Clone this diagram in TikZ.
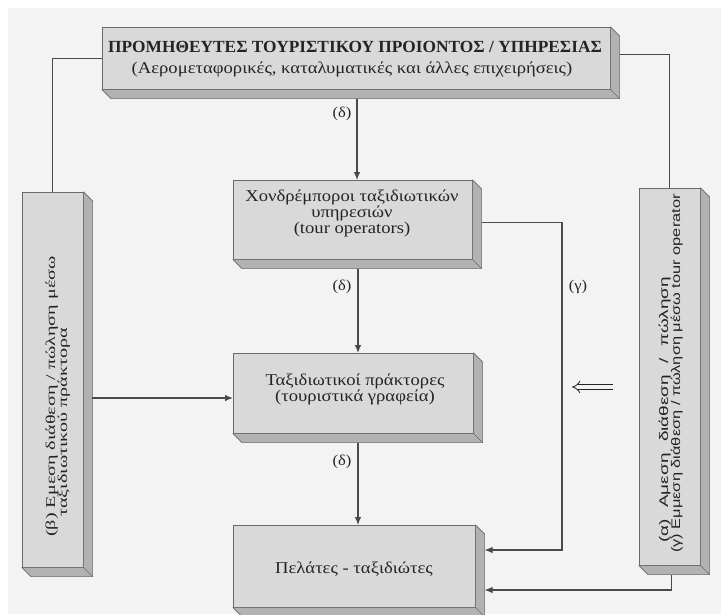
\documentclass[tikz,border=0pt]{standalone}
\usepackage{fontspec}
\setmainfont{Liberation Serif}
\newfontfamily\sansgr{Liberation Sans}
\usetikzlibrary{arrows.meta,calc}

\definecolor{paper}{HTML}{F3F3F3}
\definecolor{facegray}{HTML}{D9D9D9}
\definecolor{sidegray}{HTML}{B2B2B2}
\definecolor{edgegray}{HTML}{6A6A6A}
\definecolor{linegray}{HTML}{4A4A4A}
\definecolor{ink}{HTML}{242424}

\tikzset{
  slab/.style={draw=edgegray, line width=0.6pt, fill=facegray, inner sep=0pt, anchor=north west},
  link/.style={draw=linegray, line width=1.1pt},
  flow/.style={link, -{Latex[length=8pt,width=6.5pt]}},
  txt/.style={inner sep=0pt, text=ink, anchor=base},
  body/.style={txt, font=\fontsize{16.5}{18}\selectfont, xscale=1.13},
  tag/.style={txt, font=\fontsize{15}{18}\selectfont, xscale=1.1},
  vtxt/.style={inner sep=0pt, text=ink, anchor=base west, rotate=90},
  serifside/.style={vtxt, font=\fontsize{13.5}{14}\selectfont, xscale=1.49},
  sansside/.style={vtxt, font=\sansgr\fontsize{12.5}{14}\selectfont, xscale=1.31},
}

% right and bottom faces of a raised slab
\newcommand\extrude[2][9]{%
  \filldraw[draw=edgegray, line width=0.6pt, fill=sidegray]
    (#2.north east) -- ++(#1,#1) -- ($(#2.south east)+(#1,#1)$)
    -- ($(#2.south west)+(#1,#1)$) -- (#2.south west) -- (#2.south east) -- cycle;
  \draw[edgegray, line width=0.6pt] (#2.south east) -- ++(#1,#1);}
\newcommand\wsp{\hspace{0.6em}}

\begin{document}
\begin{tikzpicture}[x=1pt, y=-1pt]
  \useasboundingbox (0,0) rectangle (721,614);
  \fill[white] (0,0) rectangle (721,614);
  \fill[paper] (8,8) rectangle (721,614);

  % slabs
  \node[slab, minimum width=508pt, minimum height=62pt] (sup) at (102,27) {};
  \extrude{sup}
  \node[slab, minimum width=239pt, minimum height=79pt] (tour) at (233,180) {};
  \extrude{tour}
  \node[slab, minimum width=240pt, minimum height=80pt] (agents) at (233,353) {};
  \extrude{agents}
  \node[slab, minimum width=242pt, minimum height=82pt] (cust) at (233,525) {};
  \extrude{cust}
  \node[slab, minimum width=61pt, minimum height=375pt] (lbox) at (22,192) {};
  \extrude{lbox}
  \node[slab, minimum width=61pt, minimum height=377pt] (rbox) at (639,188) {};
  \extrude{rbox}

  % texts in the slabs
  \node[txt, font=\fontsize{17}{18}\selectfont\bfseries, xscale=1.02] (supA) at (355,52)
    {ΠΡΟΜΗΘΕΥΤΕΣ ΤΟΥΡΙΣΤΙΚΟΥ ΠΡΟΙΟΝΤΟΣ / ΥΠΗΡΕΣΙΑΣ};
  \node[body] (supB) at (352,73) {(Αερομεταφορικές, καταλυματικές και άλλες επιχειρήσεις)};

  \node[body] (tourA) at (352,201) {Χονδρέμποροι ταξιδιωτικών};
  \node[body] (tourB) at (352,217) {υπηρεσιών};
  \node[body] (tourC) at (352,233) {(tour operators)};

  \node[body] (agA) at (355,385) {Ταξιδιωτικοί πράκτορες};
  \node[body] (agB) at (355,401) {(τουριστικά γραφεία)};

  \node[body] (custA) at (354,573) {Πελάτες - ταξιδιώτες};

  \node[serifside] (lA) at (55,537) {(β) Εμεση διάθεση / πώληση μέσω};
  \node[serifside] (lB) at (67,517) {ταξιδιωτικού πράκτορα};

  \node[sansside, xscale=1.16] (rA) at (668,543) {(α)\wsp Αμεση\wsp διάθεση\wsp /\wsp πώληση};
  \node[sansside] (rB) at (680,553) {(γ) Εμμεση διάθεση / πώληση μέσω tour operator};

  % connectors
  \coordinate (spineA) at (357,0);
  \coordinate (spineB) at (358,0);
  \coordinate (bjoin) at (92,398);
  \coordinate (gturn) at (562,550);
  \coordinate (rjoin) at (0,590);

  \draw[link] (sup.west) -| (lbox.north);
  \draw[link] ($(sup.east)+(9,-4)$) -| (rbox.north);
  \draw[flow] ($(sup.south -| spineA)+(0,9)$) -- (tour.north -| spineA);
  \draw[flow] ($(tour.south -| spineB)+(0,9)$) -- (agents.north -| spineB);
  \draw[flow] ($(agents.south -| spineB)+(0,9)$) -- (cust.north -| spineB);
  \draw[flow] (bjoin) -- (bjoin -| agents.west);
  \draw[flow] ($(tour.east)+(9,3)$) -| (gturn) -- ($(cust.east |- gturn)+(9,0)$);
  \draw[flow] ($(rbox.south)+(2,9)$) |- ($(cust.east |- rjoin)+(9,0)$);

  % connector labels
  \node[tag] (dA) at (342,117) {(δ)};
  \node[tag] (dB) at (342,290) {(δ)};
  \node[tag] (dC) at (342,465) {(δ)};
  \node[tag] (gam) at (578,290) {(γ)};

  % double arrow pointing at the agents level
  \coordinate (dblR) at (613,387);
  \coordinate (dblL) at (572,387);
  \draw[draw=ink, line width=0.8pt, double=paper, double distance=3.6pt,
        -{Implies[length=6pt]}] (dblR) -- (dblL);
\end{tikzpicture}
\end{document}
